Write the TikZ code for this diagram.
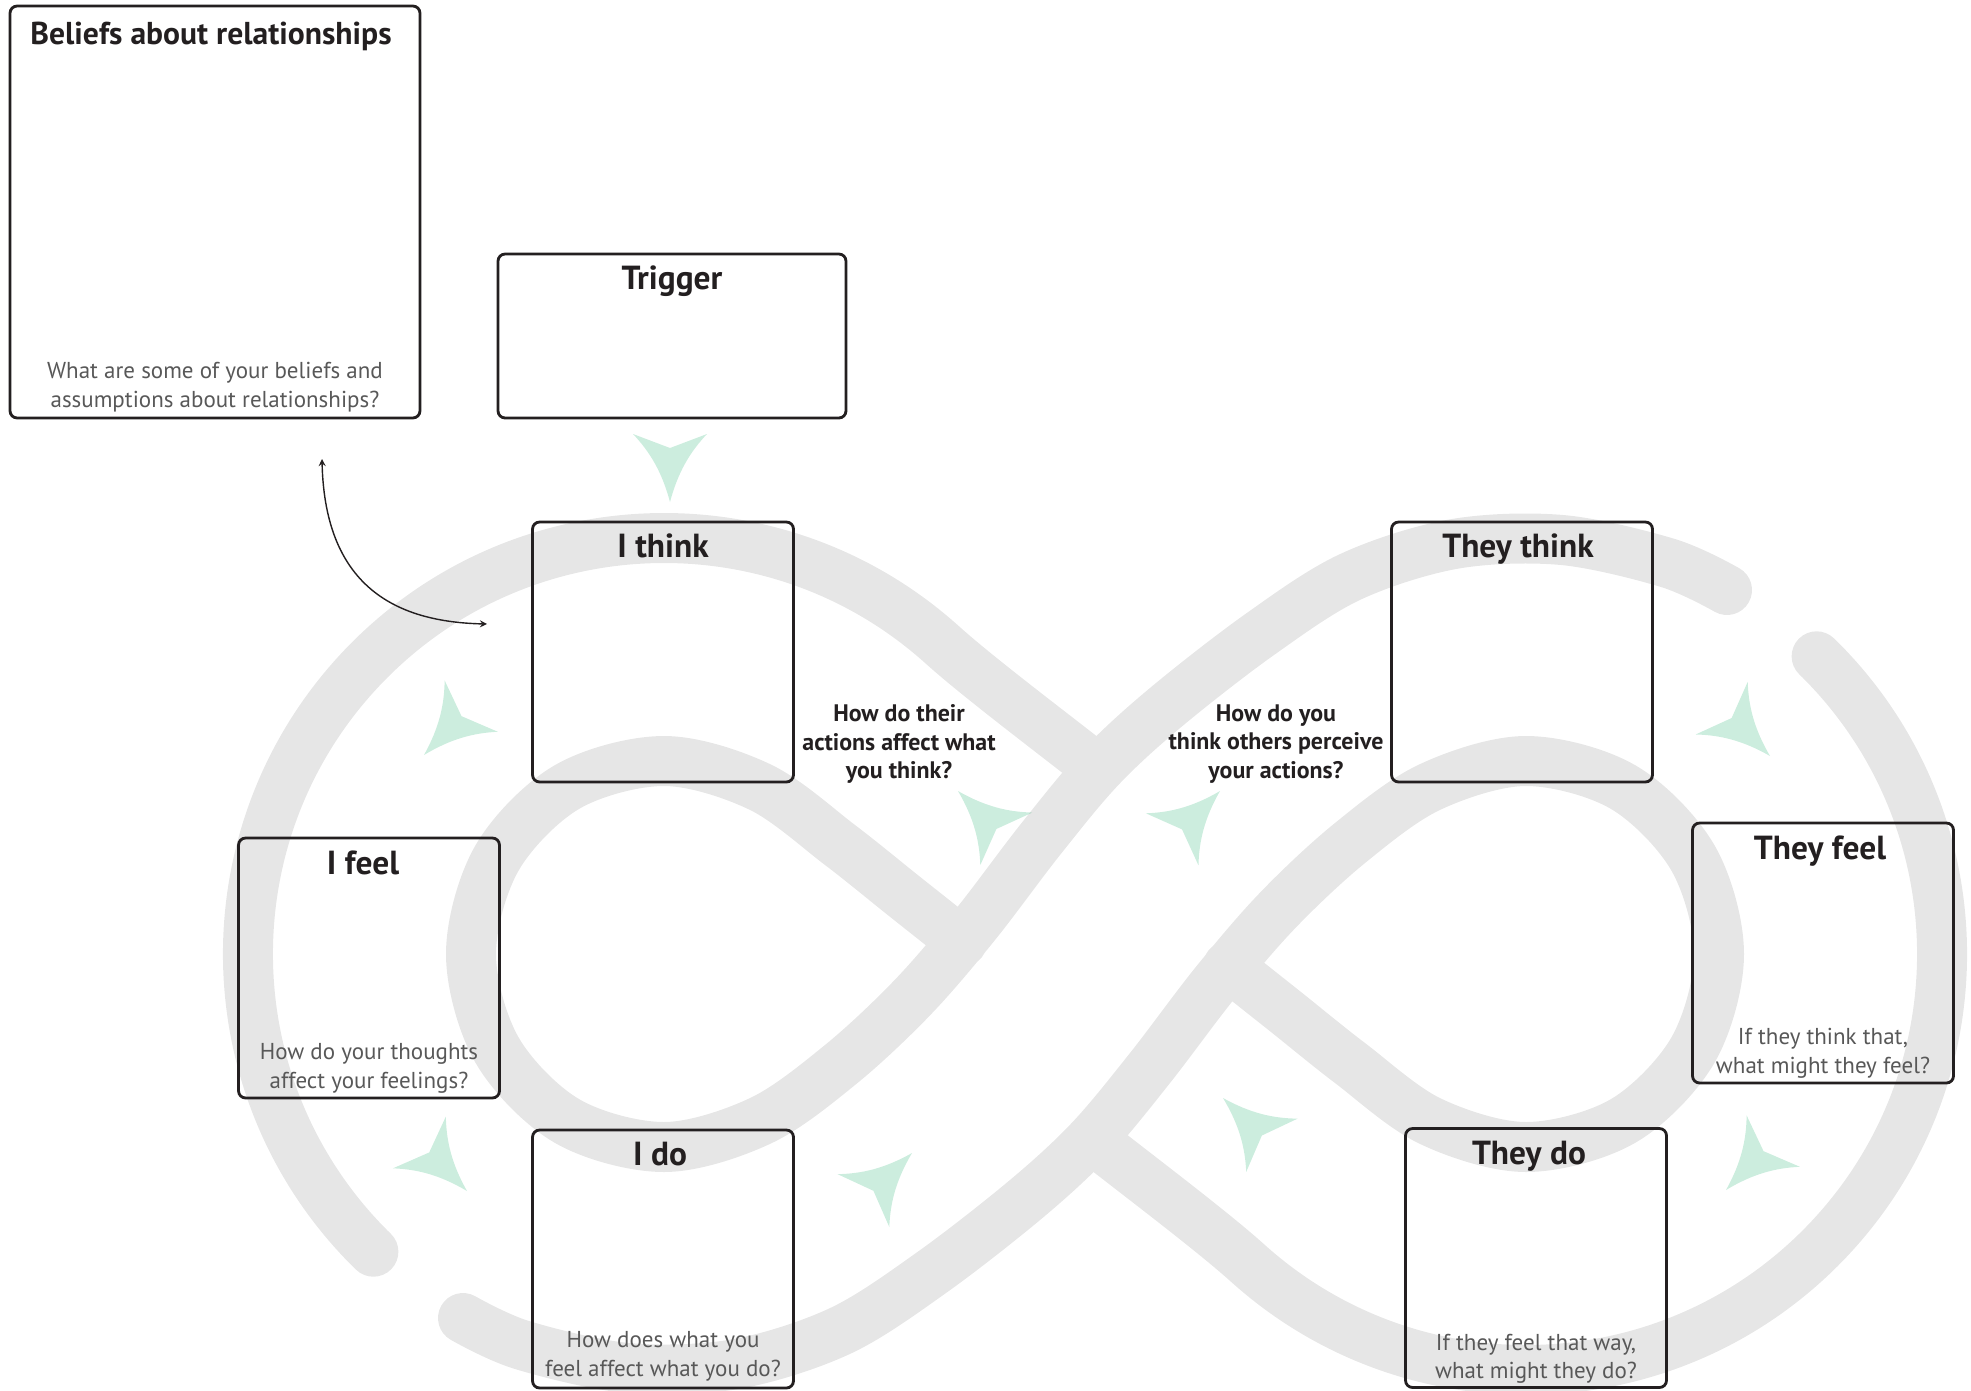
\documentclass[tikz,border=0pt]{standalone}
\usepackage{fontspec}
\setmainfont{PT Sans}
\usetikzlibrary{positioning}

\definecolor{ink}{RGB}{35,31,32}
\definecolor{hintgray}{RGB}{88,88,88}
\definecolor{bandgray}{RGB}{230,230,230}
\definecolor{mint}{RGB}{0,166,90}

\tikzstyle{card} = [rectangle, rounded corners=4pt, draw=ink, line width=1.6pt, minimum width=5.22cm, minimum height=5.2cm]
\tikzstyle{ttl} = [font=\fontsize{19}{23}\selectfont\bfseries, text=ink, inner sep=0pt]
\tikzstyle{hint} = [font=\fontsize{13.1}{16.3}\selectfont, text=hintgray, align=center, inner sep=0pt]
\tikzstyle{ask} = [font=\fontsize{13.6}{16.1}\selectfont\bfseries, text=ink, align=center, inner sep=0pt]
\tikzstyle{band} = [draw=bandgray, line width=1cm, line cap=round]
\tikzstyle{cue} = [fill=mint, fill opacity=0.2]
\tikzstyle{link} = [<->, >=stealth, line width=0.8pt, draw=ink]

\newcommand{\bandloops}{
  \draw[band] (373.4,1251.7) arc[start angle=134.3, end angle=312, radius=416] .. controls (979,678) and (1059,738) .. (1098,769);
  \draw[band] plot[smooth, tension=0.55] coordinates {(962,942) (904,896) (840,845) (760,787) (664,761) (567,787) (497,858) (471,954) (497,1050) (567,1121) (664,1147) (760,1121) (840,1065) (912,998) (975,925) (1040,840) (1100,768) (1165,708) (1259,635) (1350,577) (1454,544) (1562,540) (1668,563) (1727,590)};
}
\newcommand{\cuemark}[2]{
  \begin{scope}[shift={(#1)}, rotate=#2]
    \fill[cue] (0,0) .. controls (-30,8) and (-50,20) .. (-68,37) -- (-54,0) -- (-68,-37) .. controls (-50,-20) and (-30,-8) .. cycle;
  \end{scope}
}

\begin{document}
\begin{tikzpicture}[x=0.02cm, y=-0.02cm]
    \useasboundingbox (0,0) rectangle (1971,1390);
    \bandloops
    \begin{scope}[rotate around={180:(1095,954)}]
      \bandloops
    \end{scope}

    \cuemark{670,502}{-90}
    \cuemark{424,755}{226}
    \cuemark{467,1191}{-45.6}
    \cuemark{912,1153}{44.4}
    \cuemark{958,791}{135.3}
    \cuemark{1220,791}{45.3}
    \cuemark{1223,1098}{136}
    \cuemark{1770,756}{-44.7}
    \cuemark{1726,1190}{-134}

    \node[card, minimum width=8.2cm, minimum height=8.24cm] (beliefs) at (215,212) {};
    \node[card, minimum width=6.96cm, minimum height=3.28cm] (trigger) at (672,336) {};
    \node[card] (ithink) at (663,652) {};
    \node[card] (theythink) at (1522,652) {};
    \node[card] (ifeel) at (369,968) {};
    \node[card] (theyfeel) at (1823,953) {};
    \node[card, minimum height=5.16cm] (ido) at (663,1259) {};
    \node[card, minimum height=5.18cm] (theydo) at (1536,1258) {};

    \node[ttl, font=\fontsize{18}{22}\selectfont\bfseries, anchor=base] (beliefsT) at ([xshift=-0.08cm, yshift=-0.8cm]beliefs.north) {Beliefs about relationships};
    \node[ttl, anchor=base] (triggerT) at ([yshift=-0.74cm]trigger.north) {Trigger};
    \node[ttl, anchor=base] (ithinkT) at ([yshift=-0.74cm]ithink.north) {I think};
    \node[ttl, anchor=base] (theythinkT) at ([xshift=-0.08cm, yshift=-0.74cm]theythink.north) {They think};
    \node[ttl, anchor=base] (ifeelT) at ([xshift=-0.12cm, yshift=-0.76cm]ifeel.north) {I feel};
    \node[ttl, anchor=base] (theyfeelT) at ([xshift=-0.06cm, yshift=-0.76cm]theyfeel.north) {They feel};
    \node[ttl, anchor=base] (idoT) at ([xshift=-0.06cm, yshift=-0.74cm]ido.north) {I do};
    \node[ttl, anchor=base] (theydoT) at ([xshift=-0.14cm, yshift=-0.74cm]theydo.north) {They do};

    \node[hint, above=0.14cm] (beliefsQ) at (beliefs.south) {What are some of your beliefs and\\assumptions about relationships?};
    \node[hint, above=0.12cm] (ifeelQ) at (ifeel.south) {How do your thoughts\\affect your feelings?};
    \node[hint, above=0.12cm] (theyfeelQ) at (theyfeel.south) {If they think that,\\what might they feel?};
    \node[hint, above=0.16cm] (idoQ) at (ido.south) {How does what you\\feel affect what you do?};
    \node[hint, above=0.1cm] (theydoQ) at (theydo.south) {If they feel that way,\\what might they do?};

    \node[ask] (theiractions) at (899,744) {How do their\\actions affect what\\you think?};
    \node[ask] (perceive) at (1276,744) {How do you\\think others perceive\\your actions?};

    \coordinate (linkA) at (322,459);
    \coordinate (linkB) at (487,624);
    \draw[link] (linkA) .. controls (325,590) and (400,622) .. (linkB);
\end{tikzpicture}
\end{document}
